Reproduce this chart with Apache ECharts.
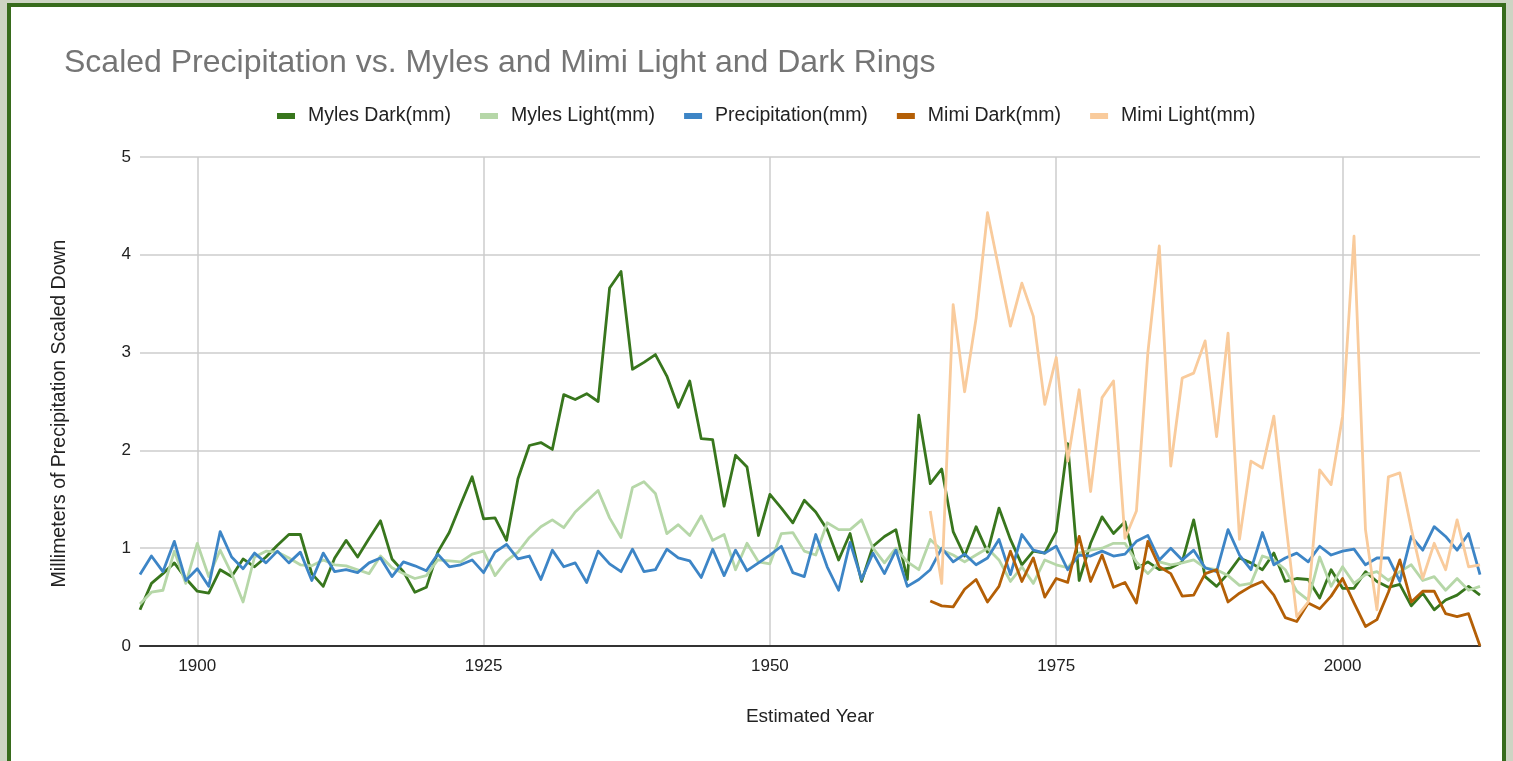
<!DOCTYPE html>
<html>
<head>
<meta charset="utf-8">
<title>Scaled Precipitation vs. Myles and Mimi Light and Dark Rings</title>
<script src="https://cdn.jsdelivr.net/npm/echarts@6/dist/echarts.min.js"></script>
<style>
  html, body { margin: 0; padding: 0; width: 1513px; height: 761px; overflow: hidden; background: #cdd4c3; }
  #card { position: absolute; left: 7px; top: 3px; width: 1491px; height: 800px; background: #ffffff; border: 4px solid #376b1c; }
  #chart { position: absolute; left: 0; top: 0; width: 1513px; height: 761px; }
</style>
</head>
<body>
<div id="card"></div>
<div id="chart"></div>
<script>
// Estimated ring years, one per growth year
const years = [];
for (let y = 1895; y <= 2012; y++) years.push(y);

// Myles tree, 1895–2012
const mylesDark = [
  0.37, 0.64, 0.74, 0.85, 0.69,
  0.56, 0.54, 0.78, 0.71, 0.89, 0.81, 0.91, 1.03, 1.14, 1.14,
  0.74, 0.61, 0.90, 1.08, 0.91, 1.10, 1.28, 0.89, 0.76, 0.55,
  0.60, 0.96, 1.16, 1.45, 1.73, 1.30, 1.31, 1.08, 1.71, 2.05,
  2.08, 2.01, 2.57, 2.52, 2.58, 2.50, 3.66, 3.83, 2.83, 2.90,
  2.98, 2.76, 2.44, 2.71, 2.12, 2.11, 1.43, 1.95, 1.83, 1.13,
  1.55, 1.41, 1.26, 1.49, 1.37, 1.19, 0.88, 1.15, 0.66, 1.02,
  1.12, 1.19, 0.68, 2.36, 1.66, 1.81, 1.17, 0.92, 1.22, 0.96,
  1.41, 1.09, 0.83, 0.97, 0.95, 1.17, 2.07, 0.67, 1.05, 1.32,
  1.15, 1.27, 0.79, 0.86, 0.78, 0.80, 0.86, 1.29, 0.71, 0.61,
  0.74, 0.90, 0.85, 0.78, 0.95, 0.66, 0.69, 0.68, 0.49, 0.78,
  0.59, 0.59, 0.76, 0.66, 0.60, 0.63, 0.41, 0.54, 0.37, 0.47,
  0.52, 0.61, 0.52
];
const mylesLight = [
  0.43, 0.55, 0.57, 0.97, 0.64,
  1.05, 0.71, 0.98, 0.74, 0.45, 0.91, 0.97, 0.96, 0.90, 0.83,
  0.82, 0.88, 0.83, 0.82, 0.78, 0.74, 0.92, 0.80, 0.74, 0.69,
  0.72, 0.88, 0.87, 0.86, 0.94, 0.97, 0.72, 0.87, 0.96, 1.11,
  1.22, 1.29, 1.21, 1.37, 1.48, 1.59, 1.31, 1.11, 1.62, 1.68,
  1.56, 1.15, 1.24, 1.13, 1.33, 1.08, 1.14, 0.78, 1.05, 0.86,
  0.84, 1.15, 1.16, 0.97, 0.93, 1.26, 1.19, 1.19, 1.29, 1.00,
  0.85, 1.00, 0.86, 0.78, 1.09, 0.98, 0.93, 0.86, 0.93, 1.00,
  0.88, 0.66, 0.81, 0.64, 0.88, 0.83, 0.80, 0.95, 0.98, 1.00,
  1.05, 1.05, 0.86, 0.74, 0.86, 0.83, 0.85, 0.88, 0.80, 0.78,
  0.72, 0.62, 0.64, 0.92, 0.88, 0.78, 0.56, 0.47, 0.91, 0.61,
  0.81, 0.64, 0.73, 0.76, 0.67, 0.76, 0.83, 0.67, 0.71, 0.57,
  0.69, 0.57, 0.61
];

// Scaled yearly precipitation, 1895–2012
const precipitation = [
  0.73, 0.92, 0.76, 1.07, 0.67,
  0.79, 0.61, 1.17, 0.91, 0.79, 0.95, 0.85, 0.97, 0.85, 0.96,
  0.67, 0.95, 0.76, 0.78, 0.75, 0.85, 0.90, 0.71, 0.86, 0.82,
  0.77, 0.94, 0.81, 0.83, 0.88, 0.75, 0.96, 1.04, 0.89, 0.92,
  0.68, 0.98, 0.81, 0.85, 0.65, 0.97, 0.84, 0.76, 0.99, 0.76,
  0.78, 0.99, 0.90, 0.87, 0.70, 0.99, 0.72, 0.98, 0.77, 0.85,
  0.93, 1.02, 0.75, 0.71, 1.14, 0.81, 0.57, 1.06, 0.68, 0.95,
  0.74, 0.98, 0.61, 0.68, 0.78, 1.00, 0.86, 0.94, 0.83, 0.90,
  1.09, 0.73, 1.14, 0.98, 0.95, 1.02, 0.78, 0.93, 0.92, 0.97,
  0.92, 0.94, 1.07, 1.13, 0.88, 1.00, 0.88, 0.98, 0.80, 0.76,
  1.19, 0.93, 0.78, 1.16, 0.83, 0.90, 0.95, 0.86, 1.02, 0.93,
  0.97, 0.99, 0.83, 0.90, 0.90, 0.66, 1.12, 0.98, 1.22, 1.12,
  0.98, 1.15, 0.73
];

// Mimi tree, 1964–2012 (no rings before 1964)
const mimiStart = 1964;
const mimiDark = [
  0.46, 0.41, 0.40, 0.58, 0.68, 0.45,
  0.61, 0.97, 0.66, 0.90, 0.50, 0.69, 0.65, 1.12, 0.66, 0.93,
  0.60, 0.65, 0.44, 1.07, 0.81, 0.74, 0.51, 0.52, 0.74, 0.78,
  0.45, 0.54, 0.61, 0.66, 0.52, 0.29, 0.25, 0.44, 0.38, 0.51,
  0.69, 0.44, 0.20, 0.27, 0.55, 0.88, 0.45, 0.56, 0.56, 0.33,
  0.30, 0.33, 0.00
];
const mimiLight = [
  1.38, 0.64, 3.49, 2.60, 3.35, 4.43,
  3.85, 3.27, 3.71, 3.37, 2.47, 2.95, 1.89, 2.62, 1.58, 2.54,
  2.71, 1.10, 1.38, 3.00, 4.09, 1.84, 2.74, 2.79, 3.12, 2.14,
  3.20, 1.09, 1.89, 1.82, 2.35, 1.30, 0.30, 0.45, 1.80, 1.65,
  2.35, 4.19, 1.19, 0.37, 1.73, 1.77, 1.20, 0.69, 1.05, 0.78,
  1.29, 0.81, 0.83
];

// Axis ticks
const yearTickStep = 25;
const valueTicks = [0, 1, 2, 3, 4, 5];

// Pad a late-starting series with gaps so it lines up with the year axis
function alignToYears(values, startYear) {
  const lead = startYear - years[0];
  return years.map((_, i) => (i < lead ? null : values[i - lead]));
}

const FONT = '"Liberation Sans", Arial, Helvetica, sans-serif';

function lineSeries(name, data, color) {
  return {
    name: name,
    type: 'line',
    data: data,
    symbol: 'none',
    connectNulls: false,
    lineStyle: { color: color, width: 2.8, join: 'round' },
    itemStyle: { color: color },
    emphasis: { disabled: true },
    animation: false
  };
}

const chart = echarts.init(document.getElementById('chart'), null, { renderer: 'canvas' });

chart.setOption({
  backgroundColor: 'transparent',
  animation: false,
  title: {
    text: 'Scaled Precipitation vs. Myles and Mimi Light and Dark Rings',
    left: 59,
    top: 42,
    textStyle: { fontFamily: FONT, fontSize: 32, fontWeight: 'normal', color: '#757575' }
  },
  legend: {
    left: 272,
    top: 101,
    itemWidth: 18,
    itemHeight: 6,
    itemGap: 29,
    icon: 'rect',
    textStyle: { fontFamily: FONT, fontSize: 19.5, color: '#222222', padding: [0, 0, 0, 8] },
    data: ['Myles Dark(mm)', 'Myles Light(mm)', 'Precipitation(mm)', 'Mimi Dark(mm)', 'Mimi Light(mm)']
  },
  grid: { left: 140, right: 33, top: 157, bottom: 115, containLabel: false },
  xAxis: {
    type: 'category',
    data: years,
    boundaryGap: false,
    name: 'Estimated Year',
    nameLocation: 'middle',
    nameGap: 61,
    nameTextStyle: { fontFamily: FONT, fontSize: 19, color: '#222222' },
    axisLine: { show: true, lineStyle: { color: '#333333', width: 2 } },
    axisTick: { show: false },
    axisLabel: {
      interval: (idx, val) => Number(val) % yearTickStep === 0,
      margin: 12,
      fontFamily: FONT, fontSize: 17, color: '#222222'
    },
    splitLine: {
      show: true,
      interval: (idx, val) => Number(val) % yearTickStep === 0,
      lineStyle: { color: '#cccccc', width: 1.5 }
    }
  },
  yAxis: {
    type: 'value',
    min: valueTicks[0],
    max: valueTicks[valueTicks.length - 1],
    interval: 1,
    name: 'Millimeters of Precipitation Scaled Down',
    nameLocation: 'middle',
    nameGap: 70,
    nameTextStyle: { fontFamily: FONT, fontSize: 19.5, color: '#222222', padding: [0, 24, 0, 0] },
    axisLine: { show: false },
    axisTick: { show: false },
    axisLabel: {
      margin: 9,
      fontFamily: FONT, fontSize: 17, color: '#222222',
      formatter: v => (valueTicks.includes(v) ? String(v) : '')
    },
    splitLine: { show: true, lineStyle: { color: '#cccccc', width: 1.5 } }
  },
  series: [
    lineSeries('Myles Dark(mm)', mylesDark, '#38761d'),
    lineSeries('Myles Light(mm)', mylesLight, '#b6d7a8'),
    lineSeries('Precipitation(mm)', precipitation, '#3d85c6'),
    lineSeries('Mimi Dark(mm)', alignToYears(mimiDark, mimiStart), '#b45f06'),
    lineSeries('Mimi Light(mm)', alignToYears(mimiLight, mimiStart), '#f9cb9c')
  ]
});
</script>
</body>
</html>
